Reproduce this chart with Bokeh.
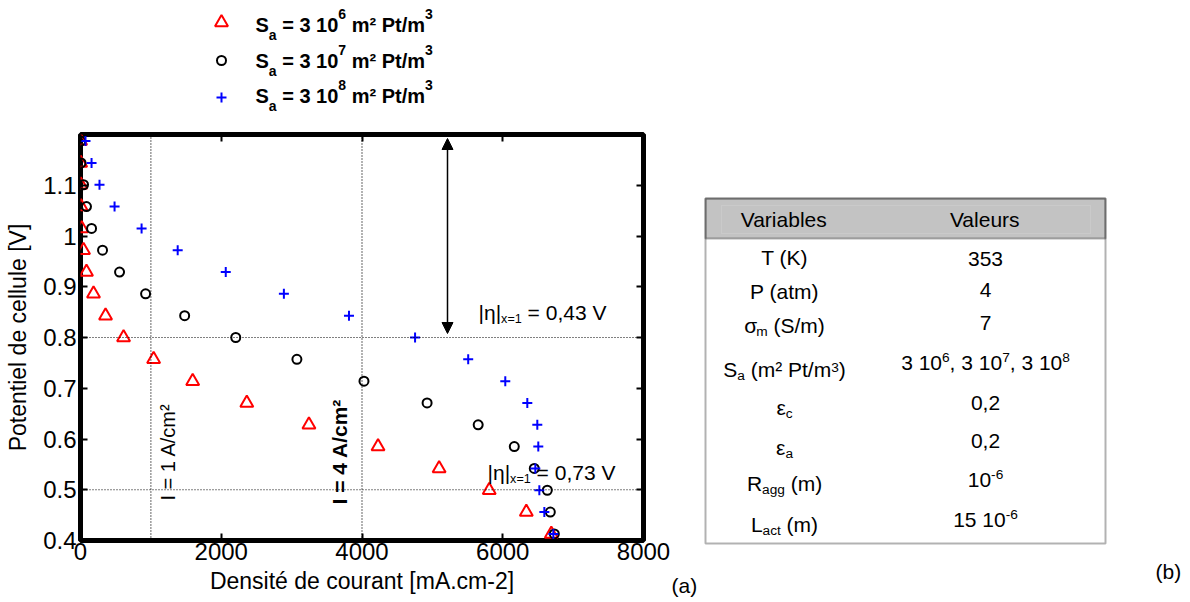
import math
from bokeh.plotting import figure
from bokeh.models import (Range1d, FixedTicker, LinearAxis, Span, Label, Arrow,
                          NormalHead, BoxAnnotation)
from bokeh.layouts import row, column
from bokeh.embed import file_html
from bokeh.resources import INLINE

FONT = "Liberation Sans"

# ---------------- data ----------------
potentiel = [1.187, 1.144, 1.101, 1.058, 1.015, 0.972, 0.929, 0.886, 0.843, 0.800,
             0.757, 0.714, 0.671, 0.628, 0.585, 0.542, 0.499, 0.456, 0.413]
densite_sa6 = [1, 2, 4, 8, 17, 43, 85, 185, 356, 612, 1039, 1594, 2363, 3246, 4228,
               5096, 5808, 6335, 6690]
densite_sa7 = [3, 8, 43, 85, 157, 313, 555, 925, 1480, 2206, 3075, 4028, 4925, 5651,
               6164, 6448, 6633, 6676, 6733]
densite_sa8 = [71, 157, 270, 484, 868, 1381, 2064, 2890, 3815, 4754, 5509, 6036, 6349,
               6491, 6505, 6463, 6520, 6591, 6719]

x_ticks = [0, 2000, 4000, 6000, 8000]
y_ticks = [0.4, 0.5, 0.6, 0.7, 0.8, 0.9, 1.0, 1.1]
y_tick_labels = ["0.4", "0.5", "0.6", "0.7", "0.8", "0.9", "1", "1.1"]
ref_x = [1000, 4000]
ref_y = [0.8, 0.5]

series_colors = ["#ff0000", "#000000", "#0000ff"]
series_markers = ["triangle", "circle", "cross"]
sa_exponents = ["6", "7", "8"]

table_header = ["Variables", "Valeurs"]
table_variables = [
    [("T (K)", "n")],
    [("P (atm)", "n")],
    [("σ", "n"), ("m", "b"), (" (S/m)", "n")],
    [("S", "n"), ("a", "b"), (" (m² Pt/m", "n"), ("3", "p"), (")", "n")],
    [("ε", "n"), ("c", "b")],
    [("ε", "n"), ("a", "b")],
    [("R", "n"), ("agg", "b"), (" (m)", "n")],
    [("L", "n"), ("act", "b"), (" (m)", "n")],
]
table_values = [
    [("353", "n")],
    [("4", "n")],
    [("7", "n")],
    [("3 10", "n"), ("6", "p"), (", 3 10", "n"), ("7", "p"), (", 3 10", "n"), ("8", "p")],
    [("0,2", "n")],
    [("0,2", "n")],
    [("10", "n"), ("-6", "p")],
    [("15 10", "n"), ("-6", "p")],
]

# ---------------- text metrics helper (Arial / Liberation Sans) ----------------
REG = {" ": 278, "(": 333, ")": 333, ",": 278, "-": 333, ".": 278, "/": 278, "=": 584,
       "|": 260, "A": 667, "D": 722, "I": 278, "K": 667, "L": 556, "P": 667, "R": 722,
       "S": 667, "T": 611, "V": 667, "[": 278, "]": 278, "a": 556, "b": 556, "c": 500,
       "d": 556, "e": 556, "é": 556, "g": 556, "i": 222, "l": 222, "m": 833, "n": 556,
       "o": 556, "r": 333, "s": 500, "t": 278, "u": 556, "x": 500, "²": 333, "³": 333,
       "η": 556, "σ": 571, "ε": 446}
BOLD = {" ": 278, "=": 584, "S": 667, "a": 556, "m": 889, "²": 333, "P": 667, "t": 333,
        "/": 278, "I": 278, "A": 722, "c": 556, ",": 278}
BASE_K = 0.37   # observed shift of the rendered baseline, as a fraction of the font size


def tw(s, size, bold):
    tbl = BOLD if bold else REG
    return sum(tbl.get(ch, 556) for ch in s) * size / 1000.0


def rich(fig, segs, x, y, size, bold=False, align="left", sx=1.0, sy=1.0,
         scale=0.65, sub_dy=3, sup_dy=7, color="black"):
    sizes = [size if k == "n" else size * scale for _, k in segs]
    widths = [tw(t, s, bold) for (t, _), s in zip(segs, sizes)]
    total = sum(widths)
    cur = x - total / 2 * sx if align == "center" else x
    for (t, k), s, w in zip(segs, sizes, widths):
        lead = len(t) - len(t.lstrip(" "))
        shown = t.strip(" ")
        off = tw(" " * lead, s, bold)
        dy = 0 if k == "n" else (-sub_dy if k == "b" else sup_dy)
        dy += BASE_K * s
        if shown:
            fig.add_layout(Label(x=cur + off * sx, y=y + dy * sy, text=shown,
                                 text_font=FONT, text_font_size=f"{s:.1f}px",
                                 text_font_style="bold" if bold else "normal",
                                 text_align="left", text_baseline="alphabetic",
                                 text_color=color))
        cur += w * sx


LEFT_W = 670
# ---------------- legend figure (above the chart) ----------------
LEG_H = 128
leg = figure(width=LEFT_W, height=LEG_H, x_range=Range1d(0, LEFT_W), y_range=Range1d(0, LEG_H),
             output_backend="svg", toolbar_location=None, x_axis_type=None, y_axis_type=None,
             min_border=0, frame_align=False)
leg.outline_line_color = None
leg.grid.visible = False


def ly(py):
    return LEG_H - py


leg_marker_y = [22, 60, 97]
leg_text_y = [32, 68, 103]
for i in range(3):
    leg.scatter(x=[221], y=[ly(leg_marker_y[i])], marker=series_markers[i],
                size=[13, 9, 10][i], fill_color=None, line_color=series_colors[i],
                line_width=2)
    segs = [("S", "n"), ("a", "b"), (" = 3 10", "n"), (sa_exponents[i], "p"),
            (" m² Pt/m", "n"), ("3", "p")]
    rich(leg, segs, 255, ly(leg_text_y[i]), 20, bold=True, scale=0.7, sub_dy=8, sup_dy=13)

# ---------------- main chart ----------------
P_H = 602 - LEG_H
p1 = figure(width=LEFT_W, height=P_H, x_range=Range1d(0, 8000), y_range=Range1d(0.4, 1.2),
            output_backend="svg", toolbar_location=None, frame_align=False,
            min_border_left=80, min_border_right=LEFT_W - 643, min_border_top=134 - LEG_H,
            min_border_bottom=602 - 540)
p1.grid.visible = False
p1.outline_line_color = "black"
p1.outline_line_width = 5
p1.background_fill_color = "white"
p1.border_fill_color = "white"

FX0, FX1, FY0, FY1 = 80, 643, 540, 134   # frame in page pixels (for annotation placement)
SX = 8000 / (FX1 - FX0)
SY = 0.8 / (FY0 - FY1)


def px2x(px):
    return (px - FX0) * SX


def py2y(py):
    return 0.4 + (FY0 - py) * SY


def style_axis(ax, ticks, labels=None, show=True):
    ax.ticker = FixedTicker(ticks=ticks)
    ax.axis_line_color = None
    ax.major_tick_in = 7
    ax.major_tick_out = 0
    ax.major_tick_line_width = 2
    ax.major_tick_line_color = "black"
    ax.minor_tick_line_color = None
    ax.major_label_text_font = FONT
    ax.major_label_text_color = "black"
    if show:
        ax.major_label_text_font_size = "24px"
        if labels is not None:
            ax.major_label_overrides = {t: l for t, l in zip(ticks, labels)}
    else:
        ax.major_label_text_font_size = "0px"
        ax.major_label_standoff = 0
        ax.major_label_overrides = {t: "" for t in ticks}


style_axis(p1.xaxis[0], x_ticks)
p1.xaxis[0].major_label_standoff = 2
p1.xaxis[0].axis_label = "Densité de courant [mA.cm-2]"
p1.xaxis[0].axis_label_standoff = 5
style_axis(p1.yaxis[0], y_ticks, y_tick_labels)
p1.yaxis[0].major_label_standoff = 4
p1.yaxis[0].axis_label = "Potentiel de cellule [V]"
p1.yaxis[0].axis_label_standoff = 9
for ax in (p1.xaxis[0], p1.yaxis[0]):
    ax.axis_label_text_font = FONT
    ax.axis_label_text_font_size = "23px"
    ax.axis_label_text_font_style = "normal"
    ax.axis_label_text_color = "black"
rax = LinearAxis()
style_axis(rax, y_ticks, show=False)
p1.add_layout(rax, "right")
tax = LinearAxis()
style_axis(tax, x_ticks, show=False)
p1.add_layout(tax, "above")

for xv in ref_x:
    p1.add_layout(Span(location=xv, dimension="height", line_color="black",
                       line_dash="1 2", line_width=1.2))
for yv in ref_y:
    p1.add_layout(Span(location=yv, dimension="width", line_color="black",
                       line_dash="1 2", line_width=1.2))

series = [densite_sa6, densite_sa7, densite_sa8]
sizes = [13, 9, 10]
for dens, col, mk, sz in zip(series, series_colors, series_markers, sizes):
    p1.scatter(x=dens, y=potentiel, marker=mk, size=sz, fill_color=None,
               line_color=col, line_width=2)

# double arrow
p1.add_layout(Arrow(start=NormalHead(size=11, fill_color="black", line_color="black"),
                    end=NormalHead(size=11, fill_color="black", line_color="black"),
                    x_start=px2x(447), y_start=py2y(333), x_end=px2x(447), y_end=py2y(138),
                    line_width=1.5, line_color="black"))

eta = "|η|"
rich(p1, [(eta, "n"), ("x=1", "b"), (" = 0,43 V", "n")], px2x(478), py2y(320), 21,
     sx=SX, sy=SY, scale=0.6, sub_dy=3)
rich(p1, [(eta, "n"), ("x=1", "b"), (" = 0,73 V", "n")], px2x(487), py2y(480), 21,
     sx=SX, sy=SY, scale=0.6, sub_dy=3)

p1.add_layout(Label(x=px2x(167), y=py2y(500), text="I = 1 A/cm²", angle=math.pi / 2,
                    text_align="left", text_baseline="middle", text_font=FONT,
                    text_font_size="20px", text_color="black"))
p1.add_layout(Label(x=px2x(339), y=py2y(504), text="I = 4 A/cm²", angle=math.pi / 2,
                    text_align="left", text_baseline="middle", text_font=FONT,
                    text_font_size="21px", text_font_style="bold", text_color="black"))

# ---------------- table figure ----------------
T_W, T_H = 1190 - LEFT_W, 602
p2 = figure(width=T_W, height=T_H, x_range=Range1d(0, T_W), y_range=Range1d(0, T_H),
            output_backend="svg", toolbar_location=None, x_axis_type=None, y_axis_type=None,
            min_border=0, frame_align=False)
p2.outline_line_color = None
p2.grid.visible = False


def tx(px):
    return px - LEFT_W


def ty(py):
    return T_H - py


p2.add_layout(BoxAnnotation(left=tx(705), right=tx(1105), top=ty(198), bottom=ty(238),
                            fill_color="#c3c3c3", fill_alpha=1.0, line_color=None))
p2.add_layout(BoxAnnotation(left=tx(721), right=tx(1090), top=ty(205), bottom=ty(233),
                            fill_color=None, line_color="#d9d9d9", line_width=1))
p2.add_layout(BoxAnnotation(left=tx(705), right=tx(1105), top=ty(198), bottom=ty(238),
                            fill_color=None, line_color="black", line_width=2))
p2.add_layout(BoxAnnotation(left=tx(705), right=tx(1105), top=ty(198), bottom=ty(543),
                            fill_color=None, line_color="black", line_width=2))

COL1, COL2 = 784, 985
rich(p2, [(table_header[0], "n")], tx(COL1), ty(227), 21, align="center")
rich(p2, [(table_header[1], "n")], tx(COL2), ty(227), 21, align="center")
var_base = [265, 299, 333, 377, 415, 455, 491, 532]
val_base = [266, 297, 330, 370, 410, 448, 487, 527]
for segs, b in zip(table_variables, var_base):
    rich(p2, segs, tx(COL1), ty(b), 21, align="center", scale=0.65, sub_dy=3, sup_dy=5)
for segs, b in zip(table_values, val_base):
    rich(p2, segs, tx(COL2), ty(b), 21, align="center", scale=0.65, sub_dy=3, sup_dy=8)

# panel tags
rich(p2, [("(a)", "n")], tx(671), ty(593), 21)
rich(p2, [("(b)", "n")], tx(1155), ty(579), 21)

layout = row(column(leg, p1), p2)
open("out.html", "w").write(file_html(layout, INLINE, "chart"))
